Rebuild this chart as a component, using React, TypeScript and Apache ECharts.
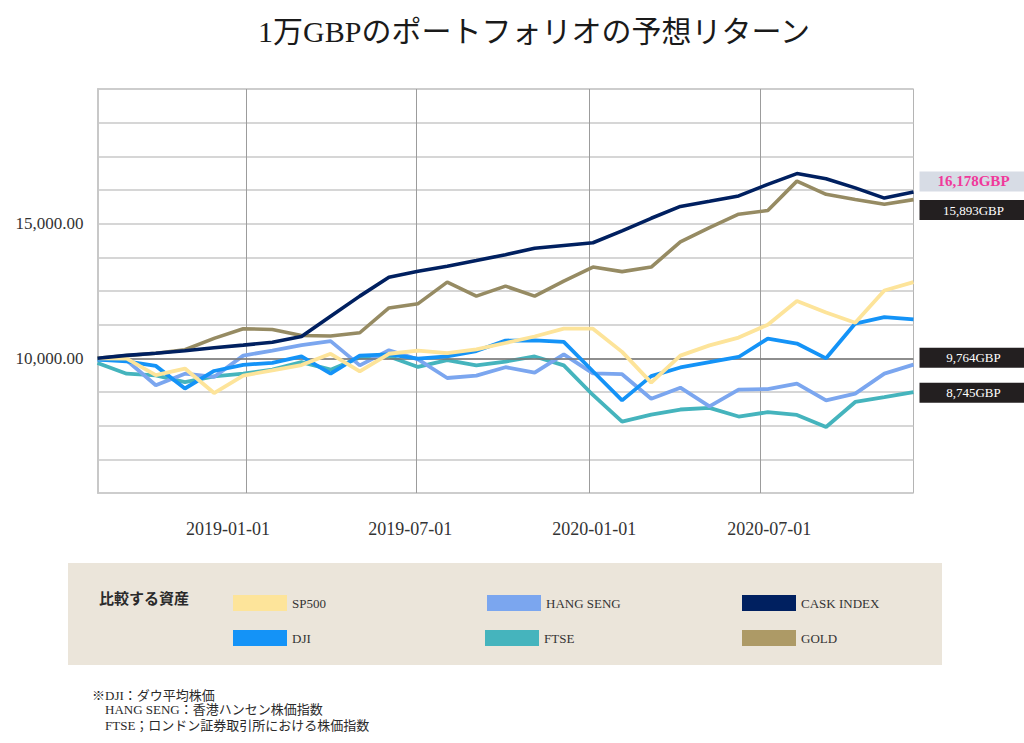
import React, { useEffect, useRef } from "react";
import * as echarts from "echarts";

// ---- data ----
const dates = [
  "2018-07-27", "2018-08-27", "2018-09-27", "2018-10-28", "2018-11-28", "2018-12-29",
  "2019-01-29", "2019-03-01", "2019-04-01", "2019-05-02", "2019-06-02", "2019-07-03",
  "2019-08-03", "2019-09-03", "2019-10-04", "2019-11-04", "2019-12-05", "2020-01-05",
  "2020-02-05", "2020-03-07", "2020-04-07", "2020-05-08", "2020-06-08", "2020-07-09",
  "2020-08-09", "2020-09-09", "2020-10-10", "2020-11-10", "2020-12-11",
];

const sp500 = [10000, 9990, 9380, 9620, 8710, 9360, 9550, 9750, 10170, 9520, 10170, 10290, 10190, 10330, 10570, 10810, 11100, 11100, 10240, 9100, 10100, 10480, 10770, 11250, 12130, 11700, 11320, 12520, 12830];
const dji = [9950, 9890, 9720, 8880, 9530, 9760, 9830, 10070, 9430, 10100, 10150, 9990, 10070, 10270, 10660, 10670, 10610, 9520, 8440, 9340, 9660, 9860, 10050, 10730, 10550, 10000, 11290, 11530, 11450];
const hangSeng = [9950, 9930, 9000, 9430, 9310, 10100, 10290, 10490, 10640, 9740, 10300, 9960, 9270, 9360, 9670, 9470, 10150, 9440, 9410, 8500, 8910, 8220, 8840, 8860, 9060, 8440, 8690, 9430, 9764];
const caskIndex = [10000, 10110, 10190, 10280, 10390, 10490, 10600, 10810, 11560, 12310, 13010, 13230, 13420, 13630, 13850, 14090, 14190, 14290, 14730, 15200, 15640, 15830, 16030, 16460, 16860, 16670, 16330, 15950, 16178];
const ftse = [9830, 9430, 9370, 9120, 9330, 9430, 9580, 9860, 9580, 10030, 10070, 9680, 9930, 9740, 9880, 10070, 9740, 8640, 7650, 7910, 8100, 8160, 7840, 8000, 7900, 7450, 8380, 8560, 8745];
const gold = [10000, 10100, 10190, 10320, 10740, 11100, 11070, 10850, 10830, 10950, 11870, 12030, 12830, 12310, 12680, 12310, 12870, 13390, 13220, 13390, 14320, 14850, 15350, 15490, 16580, 16090, 15900, 15720, 15893];

const xTickDates = ["2019-01-01", "2019-07-01", "2020-01-01", "2020-07-01"];
const yLabelValues = [10000, 15000];
const baseValue = 10000;

const titleText = "1万GBPのポートフォリオの予想リターン";
const legendTitle = "比較する資産";
const footnotes = [
  "※DJI：ダウ平均株価",
  "HANG SENG：香港ハンセン株価指数",
  "FTSE；ロンドン証券取引所における株価指数",
];

// ---- styles ----
const FONT = "'Liberation Serif', 'Noto Sans CJK JP', serif";
// horizontal nudges of the date labels relative to their grid lines (px)
const xLabelShift = [-18, -6, 5, 9];

type SeriesDef = {
  name: string;
  values: number[];
  line: string;
  legend: string;
  width: number;
  endLabel?: { bg: string; fg: string; bold: boolean; size: number; dy: number };
};

const seriesDefs: SeriesDef[] = [
  { name: "GOLD", values: gold, line: "#968b63", legend: "#ad9a66", width: 3.6,
    endLabel: { bg: "#231f20", fg: "#ffffff", bold: false, size: 13, dy: 10.5 } },
  { name: "FTSE", values: ftse, line: "#45b4bd", legend: "#45b4bd", width: 3.8,
    endLabel: { bg: "#231f20", fg: "#ffffff", bold: false, size: 13, dy: 0.5 } },
  { name: "HANG SENG", values: hangSeng, line: "#7ba6ef", legend: "#7ba6ef", width: 3.8,
    endLabel: { bg: "#231f20", fg: "#ffffff", bold: false, size: 13, dy: -7 } },
  { name: "DJI", values: dji, line: "#1493f7", legend: "#1493f7", width: 3.8 },
  { name: "SP500", values: sp500, line: "#fde49a", legend: "#fde49a", width: 3.8 },
  { name: "CASK INDEX", values: caskIndex, line: "#002060", legend: "#002060", width: 3.6,
    endLabel: { bg: "#d7dce5", fg: "#f0399b", bold: true, size: 15, dy: -10.5 } },
];

const legendLayout = [
  { name: "SP500", left: 233, top: 595 },
  { name: "HANG SENG", left: 487, top: 595 },
  { name: "CASK INDEX", left: 742, top: 595 },
  { name: "DJI", left: 233, top: 630 },
  { name: "FTSE", left: 485, top: 630 },
  { name: "GOLD", left: 742, top: 630 },
];

function parseLocal(s: string): number {
  const [y, m, d] = s.split("-").map(Number);
  return new Date(y, m - 1, d).getTime();
}
function pad(n: number) {
  return n < 10 ? "0" + n : "" + n;
}
function fmtDate(v: number): string {
  const d = new Date(v);
  return `${d.getFullYear()}-${pad(d.getMonth() + 1)}-${pad(d.getDate())}`;
}
function fmtInt(v: number): string {
  return Math.round(v).toLocaleString("en-US");
}

export default function App() {
  const ref = useRef<HTMLDivElement>(null);

  useEffect(() => {
    document.body.style.margin = "0";
    if (!ref.current) return;
    const chart = echarts.init(ref.current, null, { renderer: "svg" });
    const tickTimes = xTickDates.map(parseLocal);
    const times = dates.map(parseLocal);

    const xRich: any = {};
    xLabelShift.forEach((s, i) => {
      xRich["s" + i] = {
        fontSize: 18,
        fontFamily: FONT,
        color: "#333333",
        padding: s < 0 ? [0, -2 * s, 0, 0] : [0, 0, 0, 2 * s],
      };
    });

    const series = seriesDefs.map((s, idx) => {
      const data = times.map((t, i) => [t, s.values[i]]);
      const last = s.values.length - 1;
      const out: any = {
        name: s.name,
        type: "line",
        data,
        showSymbol: false,
        symbol: "none",
        smooth: false,
        itemStyle: { color: s.legend },
        lineStyle: { color: s.line, width: s.width },
        z: 2 + idx,
      };
      if (s.endLabel) {
        const e = s.endLabel;
        out.markPoint = {
          silent: true,
          symbol: "rect",
          symbolSize: [108, 20],
          symbolOffset: [60, e.dy],
          itemStyle: { color: e.bg },
          label: {
            show: true,
            position: "inside",
            color: e.fg,
            fontSize: e.size,
            fontWeight: e.bold ? "bold" : "normal",
            fontFamily: FONT,
            formatter: (p: any) => fmtInt(p.value) + "GBP",
          },
          data: [{ coord: [times[last], s.values[last]], value: s.values[last] }],
        };
      }
      if (idx === 0) {
        out.markLine = {
          silent: true,
          symbol: "none",
          label: { show: false },
          lineStyle: { color: "#767676", width: 1.5, type: "solid" },
          data: [{ yAxis: baseValue }],
        };
      }
      return out;
    });

    const legends = legendLayout.map((l) => {
      const def = seriesDefs.find((s) => s.name === l.name)!;
      return {
        data: [l.name],
        left: l.left,
        top: l.top,
        orient: "horizontal",
        padding: 0,
        itemGap: 0,
        itemWidth: 54,
        itemHeight: 16,
        icon: "rect",
        selectedMode: false,
        itemStyle: { color: def.legend, borderWidth: 0 },
        textStyle: { fontFamily: FONT, fontSize: 13, color: "#333333", padding: [0, 0, 5, 0] },
      };
    });

    const graphic: any[] = [
      {
        type: "rect",
        x: 68,
        y: 563,
        shape: { x: 0, y: 0, width: 874, height: 102 },
        style: { fill: "#ebe5da" },
        z: -10,
        silent: true,
      },
      {
        type: "text",
        x: 534,
        y: 31,
        style: {
          text: titleText,
          fontSize: 30,
          fontFamily: FONT,
          fill: "#1a1a1a",
          align: "center",
          verticalAlign: "middle",
        },
      },
      {
        type: "text",
        x: 99,
        y: 599,
        style: {
          text: legendTitle,
          fontSize: 15,
          fontFamily: FONT,
          fontWeight: "bold",
          fill: "#2a2a2a",
          align: "left",
          verticalAlign: "middle",
        },
      },
      ...footnotes.map((t, i) => ({
        type: "text",
        x: i === 0 ? 92 : 105,
        y: [695, 709.5, 725][i],
        style: {
          text: t,
          fontSize: 13,
          fontFamily: FONT,
          fill: "#2a2a2a",
          align: "left",
          verticalAlign: "middle",
        },
      })),
    ];

    chart.setOption({
      animation: false,
      backgroundColor: "#ffffff",
      grid: {
        left: 97.5,
        right: 110.5,
        top: 89,
        bottom: 250,
        show: true,
        borderColor: "#b4b4b4",
        borderWidth: 1,
        containLabel: false,
      },
      xAxis: {
        type: "value",
        min: times[0],
        max: times[times.length - 1],
        axisLine: { show: false },
        axisTick: { show: false, customValues: tickTimes },
        axisLabel: {
          customValues: tickTimes,
          formatter: (v: number) => {
            const i = tickTimes.indexOf(v);
            return i >= 0 ? `{s${i}|${fmtDate(v)}}` : fmtDate(v);
          },
          rich: xRich,
          margin: 27,
          fontSize: 18,
          fontFamily: FONT,
          color: "#333333",
        },
        splitLine: { show: true, lineStyle: { color: "#9c9c9c", width: 1 } },
      },
      yAxis: {
        type: "value",
        min: 5000,
        max: 20000,
        interval: 1250,
        axisLine: { show: true, lineStyle: { color: "#c8c8c8", width: 2 } },
        axisTick: { show: false },
        axisLabel: {
          margin: 14,
          fontSize: 17,
          fontFamily: FONT,
          color: "#333333",
          formatter: (v: number) =>
            yLabelValues.indexOf(v) >= 0
              ? v.toLocaleString("en-US", { minimumFractionDigits: 2, maximumFractionDigits: 2 })
              : "",
        },
        splitLine: { show: true, lineStyle: { color: "#c8c8c8", width: 1.5 } },
      },
      legend: legends,
      graphic,
      series,
    });

    return () => {
      chart.dispose();
    };
  }, []);

  return <div ref={ref} style={{ width: 1024, height: 743 }} />;
}
